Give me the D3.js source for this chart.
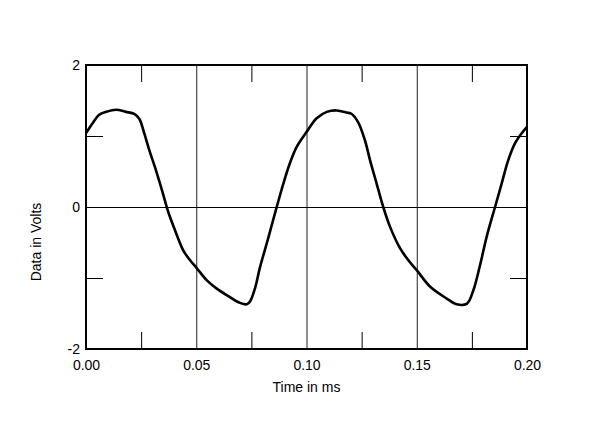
<!DOCTYPE html>
<html>
<head>
<meta charset="utf-8">
<script src="https://cdn.jsdelivr.net/npm/d3@7"></script>
<style>
  body { margin: 0; background: #fff; }
  svg { display: block; }
</style>
</head>
<body>
<svg id="chart" width="600" height="427"></svg>
<script>
// waveform: time (ms) and voltage
let timeMs = [0.0000, 0.0030, 0.0060, 0.0091, 0.0136, 0.0181, 0.0219, 0.0242, 0.0264, 0.0287,
    0.0317, 0.0348, 0.0373, 0.0404, 0.0441, 0.0472, 0.0502, 0.0547, 0.0593, 0.0653,
    0.0698, 0.0729, 0.0744, 0.0766, 0.0789, 0.0820, 0.0849, 0.0865, 0.0895, 0.0925,
    0.0956, 0.1001, 0.1046, 0.1092, 0.1137, 0.1182, 0.1205, 0.1235, 0.1265, 0.1288,
    0.1318, 0.1348, 0.1379, 0.1424, 0.1462, 0.1500, 0.1560, 0.1636, 0.1681, 0.1728,
    0.1756, 0.1787, 0.1817, 0.1855, 0.1885, 0.1915, 0.1946, 0.1976, 0.2000];
let volts = [1.04, 1.18, 1.30, 1.34, 1.37, 1.34, 1.31, 1.24, 1.04, 0.80,
    0.52, 0.20, -0.07, -0.33, -0.61, -0.75, -0.86, -1.03, -1.15, -1.27,
    -1.35, -1.37, -1.33, -1.15, -0.85, -0.51, -0.18, 0.00, 0.33, 0.62,
    0.85, 1.06, 1.25, 1.34, 1.36, 1.33, 1.31, 1.19, 0.94, 0.66,
    0.33, 0.00, -0.28, -0.58, -0.75, -0.89, -1.12, -1.29, -1.37, -1.36,
    -1.18, -0.82, -0.42, 0.00, 0.33, 0.66, 0.90, 1.04, 1.13];

let xTicks = [0, 0.05, 0.10, 0.15, 0.20];
let xMinorTicks = [0.025, 0.075, 0.125, 0.175];
let yTicks = [-2, 0, 2];
let yMinorTicks = [-1, 1];

let fontFamily = "Arial, 'Liberation Sans', sans-serif";

function drawChart(svgId) {
    let svg = d3.select(svgId);
    let left = 86, right = 527, top = 65, bottom = 349;
    let tickLen = 17;

    let x = d3.scaleLinear().domain([0, 0.2]).range([left, right]);
    let y = d3.scaleLinear().domain([-2, 2]).range([bottom, top]);

    // grid lines at major ticks
    svg.append("g")
        .call(d3.axisBottom(x).tickValues(xTicks.slice(1, -1)).tickSize(-(bottom - top)).tickFormat(""))
        .attr("transform", "translate(0," + bottom + ")")
        .call(g => g.select(".domain").remove())
        .selectAll("line").style("stroke", "#222").style("stroke-width", 1);
    svg.append("g")
        .call(d3.axisLeft(y).tickValues([0]).tickSize(-(right - left)).tickFormat(""))
        .attr("transform", "translate(" + left + ",0)")
        .call(g => g.select(".domain").remove())
        .selectAll("line").style("stroke", "#000").style("stroke-width", 1);

    // minor ticks, pointing in from every side
    svg.append("g")
        .call(d3.axisBottom(x).tickValues(xMinorTicks).tickSize(-tickLen).tickFormat(""))
        .attr("transform", "translate(0," + bottom + ")")
        .call(g => g.select(".domain").remove());
    svg.append("g")
        .call(d3.axisTop(x).tickValues(xMinorTicks).tickSize(-tickLen).tickFormat(""))
        .attr("transform", "translate(0," + top + ")")
        .call(g => g.select(".domain").remove());
    svg.append("g")
        .call(d3.axisLeft(y).tickValues(yMinorTicks).tickSize(-tickLen).tickFormat(""))
        .attr("transform", "translate(" + left + ",0)")
        .call(g => g.select(".domain").remove());
    svg.append("g")
        .call(d3.axisRight(y).tickValues(yMinorTicks).tickSize(-tickLen).tickFormat(""))
        .attr("transform", "translate(" + right + ",0)")
        .call(g => g.select(".domain").remove());

    // tick labels (plain hyphen for the minus sign, as in the original)
    svg.append("g")
        .call(d3.axisBottom(x).tickValues(xTicks).tickSize(0).tickPadding(11).tickFormat(d3.format(".2f")))
        .attr("transform", "translate(0," + bottom + ")")
        .style("font-family", fontFamily)
        .style("font-size", "14px")
        .call(g => g.select(".domain").remove());
    svg.append("g")
        .call(d3.axisLeft(y).tickValues(yTicks).tickSize(0).tickPadding(6).tickFormat(d => String(d)))
        .attr("transform", "translate(" + left + ",0)")
        .style("font-family", fontFamily)
        .style("font-size", "14px")
        .call(g => g.select(".domain").remove());

    // frame
    svg.append("rect")
        .attr("x", left)
        .attr("y", top)
        .attr("width", right - left)
        .attr("height", bottom - top)
        .style("fill", "none")
        .style("stroke", "#000")
        .style("stroke-width", 2);

    // waveform
    let points = timeMs.map((t, i) => [t, volts[i]]);
    let line = d3.line()
        .x(d => x(d[0]))
        .y(d => y(d[1]))
        .curve(d3.curveCatmullRom.alpha(0.5));
    svg.append("path")
        .datum(points)
        .attr("d", line)
        .style("fill", "none")
        .style("stroke", "#000")
        .style("stroke-width", 2.6)
        .style("stroke-linejoin", "round");

    // axis titles
    svg.append("text")
        .attr("x", (left + right) / 2)
        .attr("y", 392)
        .attr("text-anchor", "middle")
        .style("font-family", fontFamily)
        .style("font-size", "14px")
        .text("Time in ms");
    svg.append("text")
        .attr("transform", "translate(41,242) rotate(-90)")
        .attr("text-anchor", "middle")
        .style("font-family", fontFamily)
        .style("font-size", "14px")
        .text("Data in Volts");
}

drawChart("#chart");
</script>
</body>
</html>
